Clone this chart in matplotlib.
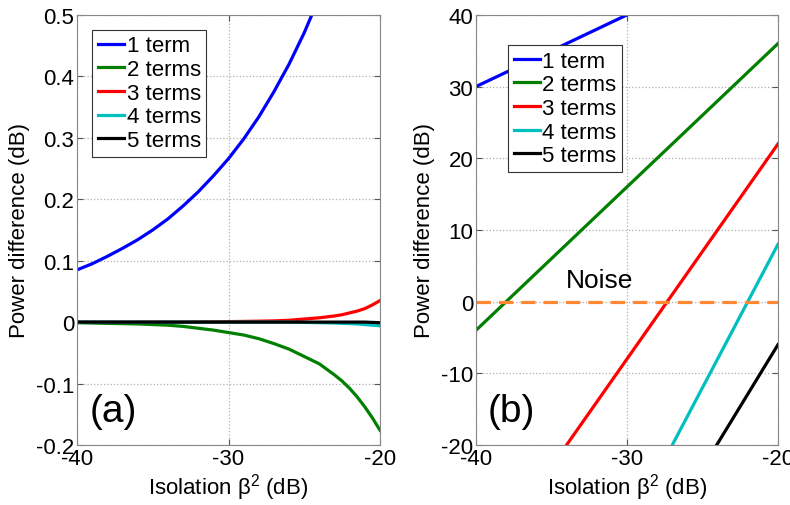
import numpy as np
import matplotlib
matplotlib.use("Agg")
import matplotlib.pyplot as plt

plt.rcParams['font.family'] = ['Liberation Sans', 'DejaVu Sans']
plt.rcParams['mathtext.fontset'] = 'custom'
plt.rcParams['mathtext.rm'] = 'Liberation Sans'
plt.rcParams['axes.unicode_minus'] = False

labels = ["1 term", "2 terms", "3 terms", "4 terms", "5 terms"]
colors = ["#0000ff", "#007f00", "#ff0000", "#00bfbf", "#000000"]

# panel (a): values
x_a = [-40, -39, -38, -37, -36, -35, -34, -33, -32, -31, -30, -29, -28, -27, -26, -25,
       -24.5, -24, -23.5, -23, -22.5, -22, -21.5, -21, -20.5, -20]
a_1 = [0.085, 0.095, 0.107, 0.120, 0.134, 0.150, 0.168, 0.189, 0.212, 0.238, 0.266,
       0.298, 0.334, 0.375, 0.420, 0.471,
       0.50, 0.528, 0.56, 0.59, 0.62, 0.66, 0.70, 0.74, 0.78, 0.83]
a_2 = [-0.001, -0.0015, -0.002, -0.0025, -0.003, -0.004, -0.005, -0.007, -0.010, -0.013,
       -0.017, -0.021, -0.027, -0.035, -0.044, -0.056,
       -0.062, -0.068, -0.077, -0.086, -0.096, -0.108, -0.122, -0.138, -0.156, -0.176]
a_3 = [0, 0, 0, 0, 0, 0, 0, 0, 0.0003, 0.0005, 0.0008, 0.0011, 0.0015, 0.002, 0.003, 0.005,
       0.006, 0.007, 0.0085, 0.010, 0.012, 0.015, 0.018, 0.022, 0.028, 0.035]
a_4 = [0, 0, 0, 0, 0, 0, 0, 0, 0, 0, 0, 0, 0, 0, 0, -0.0005,
       -0.0007, -0.001, -0.0012, -0.0015, -0.002, -0.0025, -0.003, -0.004, -0.005, -0.006]
a_5 = [0, 0, 0, 0, 0, 0, 0, 0, 0, 0, 0, 0, 0, 0, 0, 0,
       0, 0, 0, 0, 0, 0, 0, 0, -0.0005, -0.001]

# panel (b): straight lines in dB
x_b = [-40, -20]
b_1 = [30, 50]
b_2 = [-4, 36]
b_3 = [-38, 22]
b_4 = [-72, 8]
b_5 = [-75, -6]
noise_level = 0

fig = plt.figure(figsize=(7.9, 5.06), dpi=100)
ax_a = fig.add_axes([0.0975, 0.1186, 0.3835, 0.85])
ax_b = fig.add_axes([0.6025, 0.1186, 0.3823, 0.85])

for ys, c, l in zip([a_1, a_2, a_3, a_4, a_5], colors, labels):
    ax_a.plot(x_a, ys, color=c, lw=2.3, label=l)
for ys, c, l in zip([b_1, b_2, b_3, b_4, b_5], colors, labels):
    ax_b.plot(x_b, ys, color=c, lw=2.3, label=l)
ax_b.axhline(noise_level, color="#ff8833", lw=2.3, ls=(0, (4.5, 2.5)))
ax_b.text(-31.8, 1.3, "Noise", fontsize=19, ha="center", va="bottom")

ax_a.set_ylim(-0.2, 0.5)
ax_a.set_yticks(np.arange(-0.2, 0.51, 0.1))
ax_a.set_yticklabels(["-0.2", "-0.1", "0", "0.1", "0.2", "0.3", "0.4", "0.5"])
ax_b.set_ylim(-20, 40)
ax_b.set_yticks(range(-20, 41, 10))

for ax, tag, leg_pos in [(ax_a, "(a)", (0.05, 0.965)), (ax_b, "(b)", (0.106, 0.93))]:
    ax.set_xlim(-40, -20)
    ax.set_xticks([-40, -30, -20])
    ax.grid(True, color="#b0b0b0", ls=":", lw=0.9)
    ax.tick_params(direction="in", top=True, right=True, labelsize=16, length=4,
                   color="#555555", pad=2)
    for s in ax.spines.values():
        s.set_color("#888888")
    ax.set_xlabel("Isolation β$^2$ (dB)", fontsize=16, labelpad=2)
    ax.set_ylabel("Power difference (dB)", fontsize=16, labelpad=4)
    ax.text(0.04, 0.08, tag, transform=ax.transAxes, fontsize=28, ha="left", va="center")
    leg = ax.legend(loc="upper left", bbox_to_anchor=leg_pos, fontsize=16,
                    handlelength=1.2, handletextpad=0.1, borderpad=0.25,
                    labelspacing=0.12, fancybox=False, framealpha=1,
                    edgecolor="#333333", borderaxespad=0)
    leg.get_frame().set_linewidth(0.8)

fig.savefig("out.png", dpi=100)
